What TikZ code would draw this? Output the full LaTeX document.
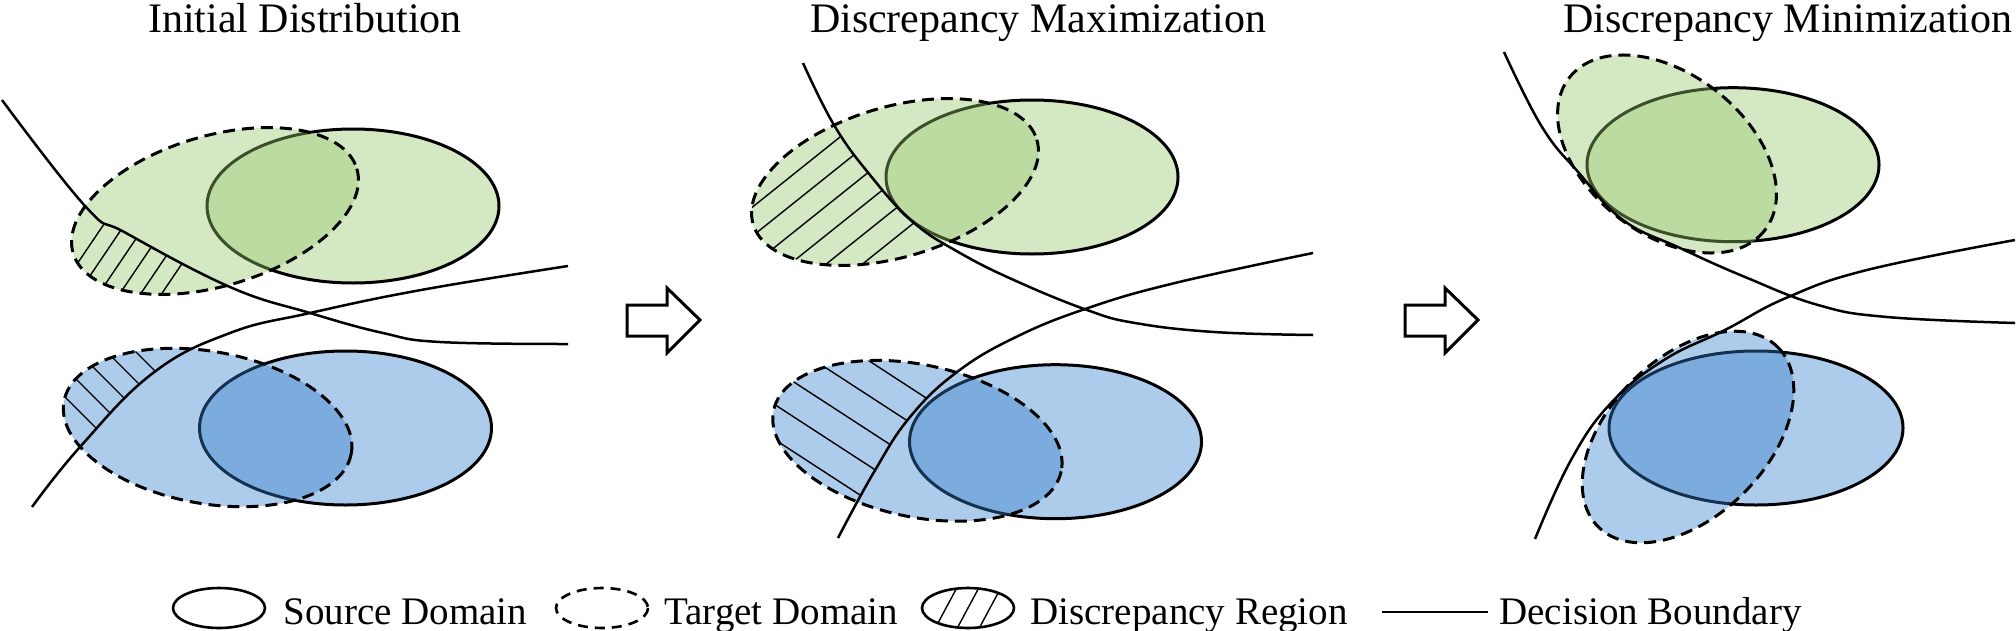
\documentclass[tikz,border=0pt]{standalone}
\usepackage{fontspec}
\setmainfont{Liberation Serif}
\definecolor{gfill}{RGB}{150,198,108}
\definecolor{bfill}{RGB}{50,125,202}
\begin{document}
\begin{tikzpicture}[x=0.5pt,y=-0.5pt,
  src/.style={draw=black,line width=1.5pt,fill=#1,fill opacity=0.4},
  tgt/.style={draw=black,line width=1.5pt,dash pattern=on 6pt off 3.5pt,fill=#1,fill opacity=0.4},
  bound/.style={draw=black,line width=1.25pt},
  hatch/.style={draw=black,line width=0.7pt},
  bigarrow/.style={draw=black,line width=1.5pt,fill=white},
  title/.style={font=\fontsize{21pt}{24pt}\selectfont,anchor=base,inner sep=0pt},
  legtext/.style={font=\fontsize{19.5pt}{23pt}\selectfont,anchor=base west,inner sep=0pt},
  legshape/.style={draw=black,line width=1.3pt}]
\useasboundingbox (0,0) rectangle (2016,631);

% ---------------- titles
\node[title] (t1) at (305,33) {Initial Distribution};
\node[title] (t2) at (1038,33) {Discrepancy Maximization};
\node[title] (t3) at (1788,33) {Discrepancy Minimization};

% ================= Panel 1
\draw[src=gfill] (353,206) ellipse [x radius=146, y radius=77];
\draw[tgt=gfill,shift={(215,211)},rotate=16.6] (0,0) ellipse [x radius=148, y radius=75];
\draw[src=bfill] (345.5,428) ellipse [x radius=146, y radius=77];
\draw[tgt=bfill,shift={(207.6,427.5)},rotate=-10.3] (0,0) ellipse [x radius=146, y radius=76];
% hatching top
\begin{scope}
  \clip[shift={(215,211)},rotate=16.6] (0,0) ellipse [x radius=148, y radius=75];
  \clip plot[smooth,tension=0.7] coordinates {(2,100) (86,207) (126,233) (230,287) (310,313) (383,333) (440,342) (568,344)} -- (568,600) -- (0,600) -- (0,100) -- cycle;
  \foreach \c in {378,409,440,471,502,533}
    \draw[hatch] (40,{\c-1.48*40}) -- (260,{\c-1.48*260});
\end{scope}
% hatching bottom
\begin{scope}
  \clip[shift={(207.6,427.5)},rotate=-10.3] (0,0) ellipse [x radius=146, y radius=76];
  \clip plot[smooth,tension=0.7] coordinates {(32,507) (80,447) (153,373) (230,333) (310,313) (421,290) (568,266)} -- (568,200) -- (0,200) -- (0,507) -- cycle;
  \foreach \c in {216,245,274,303,332}
    \draw[hatch] (20,{\c+20}) -- (260,{\c+260});
\end{scope}
\draw[bound] plot[smooth,tension=0.7] coordinates {(2,100) (86,207) (126,233) (230,287) (310,313) (383,333) (440,342) (568,344)};
\draw[bound] plot[smooth,tension=0.7] coordinates {(32,507) (80,447) (153,373) (230,333) (310,313) (421,290) (568,266)};

% arrow 1
\draw[bigarrow] (627,305) -- (667,305) -- (667,288) -- (700,320) -- (667,353) -- (667,336) -- (627,336) -- cycle;

% ================= Panel 2
\draw[src=gfill] (1032,177) ellipse [x radius=146, y radius=77];
\draw[tgt=gfill,shift={(895,182)},rotate=16.6] (0,0) ellipse [x radius=148, y radius=75];
\draw[src=bfill] (1055.5,441.7) ellipse [x radius=146, y radius=77];
\draw[tgt=bfill,shift={(917.4,440.8)},rotate=-12] (0,0) ellipse [x radius=147, y radius=76];
\begin{scope}
  \clip[shift={(895,182)},rotate=16.6] (0,0) ellipse [x radius=148, y radius=75];
  \clip plot[smooth,tension=0.7] coordinates {(803,63) (834,125) (870,175) (913,222) (960,253) (1016,281) (1087,310) (1135,323) (1214,332) (1313,335)} -- (1313,600) -- (700,600) -- (700,63) -- cycle;
  \foreach \c in {809,838,867,896,925,954}
    \draw[hatch] (700,{\c-0.8*700}) -- (1000,{\c-0.8*1000});
\end{scope}
\begin{scope}
  \clip[shift={(917.4,440.8)},rotate=-12] (0,0) ellipse [x radius=147, y radius=76];
  \clip plot[smooth,tension=0.7] coordinates {(838,538) (874,472) (910,417) (957,372) (1016,337) (1088,308) (1175,283) (1313,253)} -- (1313,200) -- (700,200) -- (700,538) -- cycle;
  \foreach \c in {-204,-169,-134,-99,-64}
    \draw[hatch] (700,{\c+0.65*700}) -- (1000,{\c+0.65*1000});
\end{scope}
\draw[bound] plot[smooth,tension=0.7] coordinates {(803,63) (834,125) (870,175) (913,222) (960,253) (1016,281) (1087,310) (1135,323) (1214,332) (1313,335)};
\draw[bound] plot[smooth,tension=0.7] coordinates {(838,538) (874,472) (910,417) (957,372) (1016,337) (1088,308) (1175,283) (1313,253)};

% arrow 2
\draw[bigarrow] (1405,305) -- (1445,305) -- (1445,288) -- (1478,320) -- (1445,353) -- (1445,336) -- (1405,336) -- cycle;

% ================= Panel 3
\draw[src=gfill] (1733,164.7) ellipse [x radius=146, y radius=77];
\draw[tgt=gfill,shift={(1667,154)},rotate=-38] (0,0) ellipse [x radius=124, y radius=80];
\draw[src=bfill] (1756,428) ellipse [x radius=147, y radius=77];
\draw[tgt=bfill,shift={(1688,437)},rotate=45] (0,0) ellipse [x radius=127, y radius=79];
\draw[bound] plot[smooth,tension=0.7] coordinates {(1504,52) (1542,127) (1579,173) (1623,220) (1680,248) (1745,277) (1818,305) (1887,317) (2015,323)};
\draw[bound] plot[smooth,tension=0.7] coordinates {(1535,539) (1571,460) (1611,403) (1664,360) (1725,330) (1786,298) (1867,270) (2015,240)};

% ================= Legend
\draw[legshape] (219,608) ellipse [x radius=46, y radius=20];
\node[legtext] (l1) at (283,624) {Source Domain};
\draw[legshape,dash pattern=on 5pt off 3.5pt] (602,608) ellipse [x radius=46, y radius=20];
\node[legtext] (l2) at (664,624) {Target Domain};
\draw[legshape] (968,608) ellipse [x radius=46, y radius=20];
\begin{scope}
  \clip (968,608) ellipse [x radius=46, y radius=20];
  \foreach \d in {-22,0,22}
    \draw[hatch] ({968+\d-15},636) -- ({968+\d+15},580);
\end{scope}
\node[legtext] (l3) at (1030,624) {Discrepancy Region};
\coordinate (la) at (1382,612);
\coordinate (lb) at (1488,612);
\draw[legshape] (la) -- (lb);
\node[legtext] (l4) at (1499,624) {Decision Boundary};
\end{tikzpicture}
\end{document}
